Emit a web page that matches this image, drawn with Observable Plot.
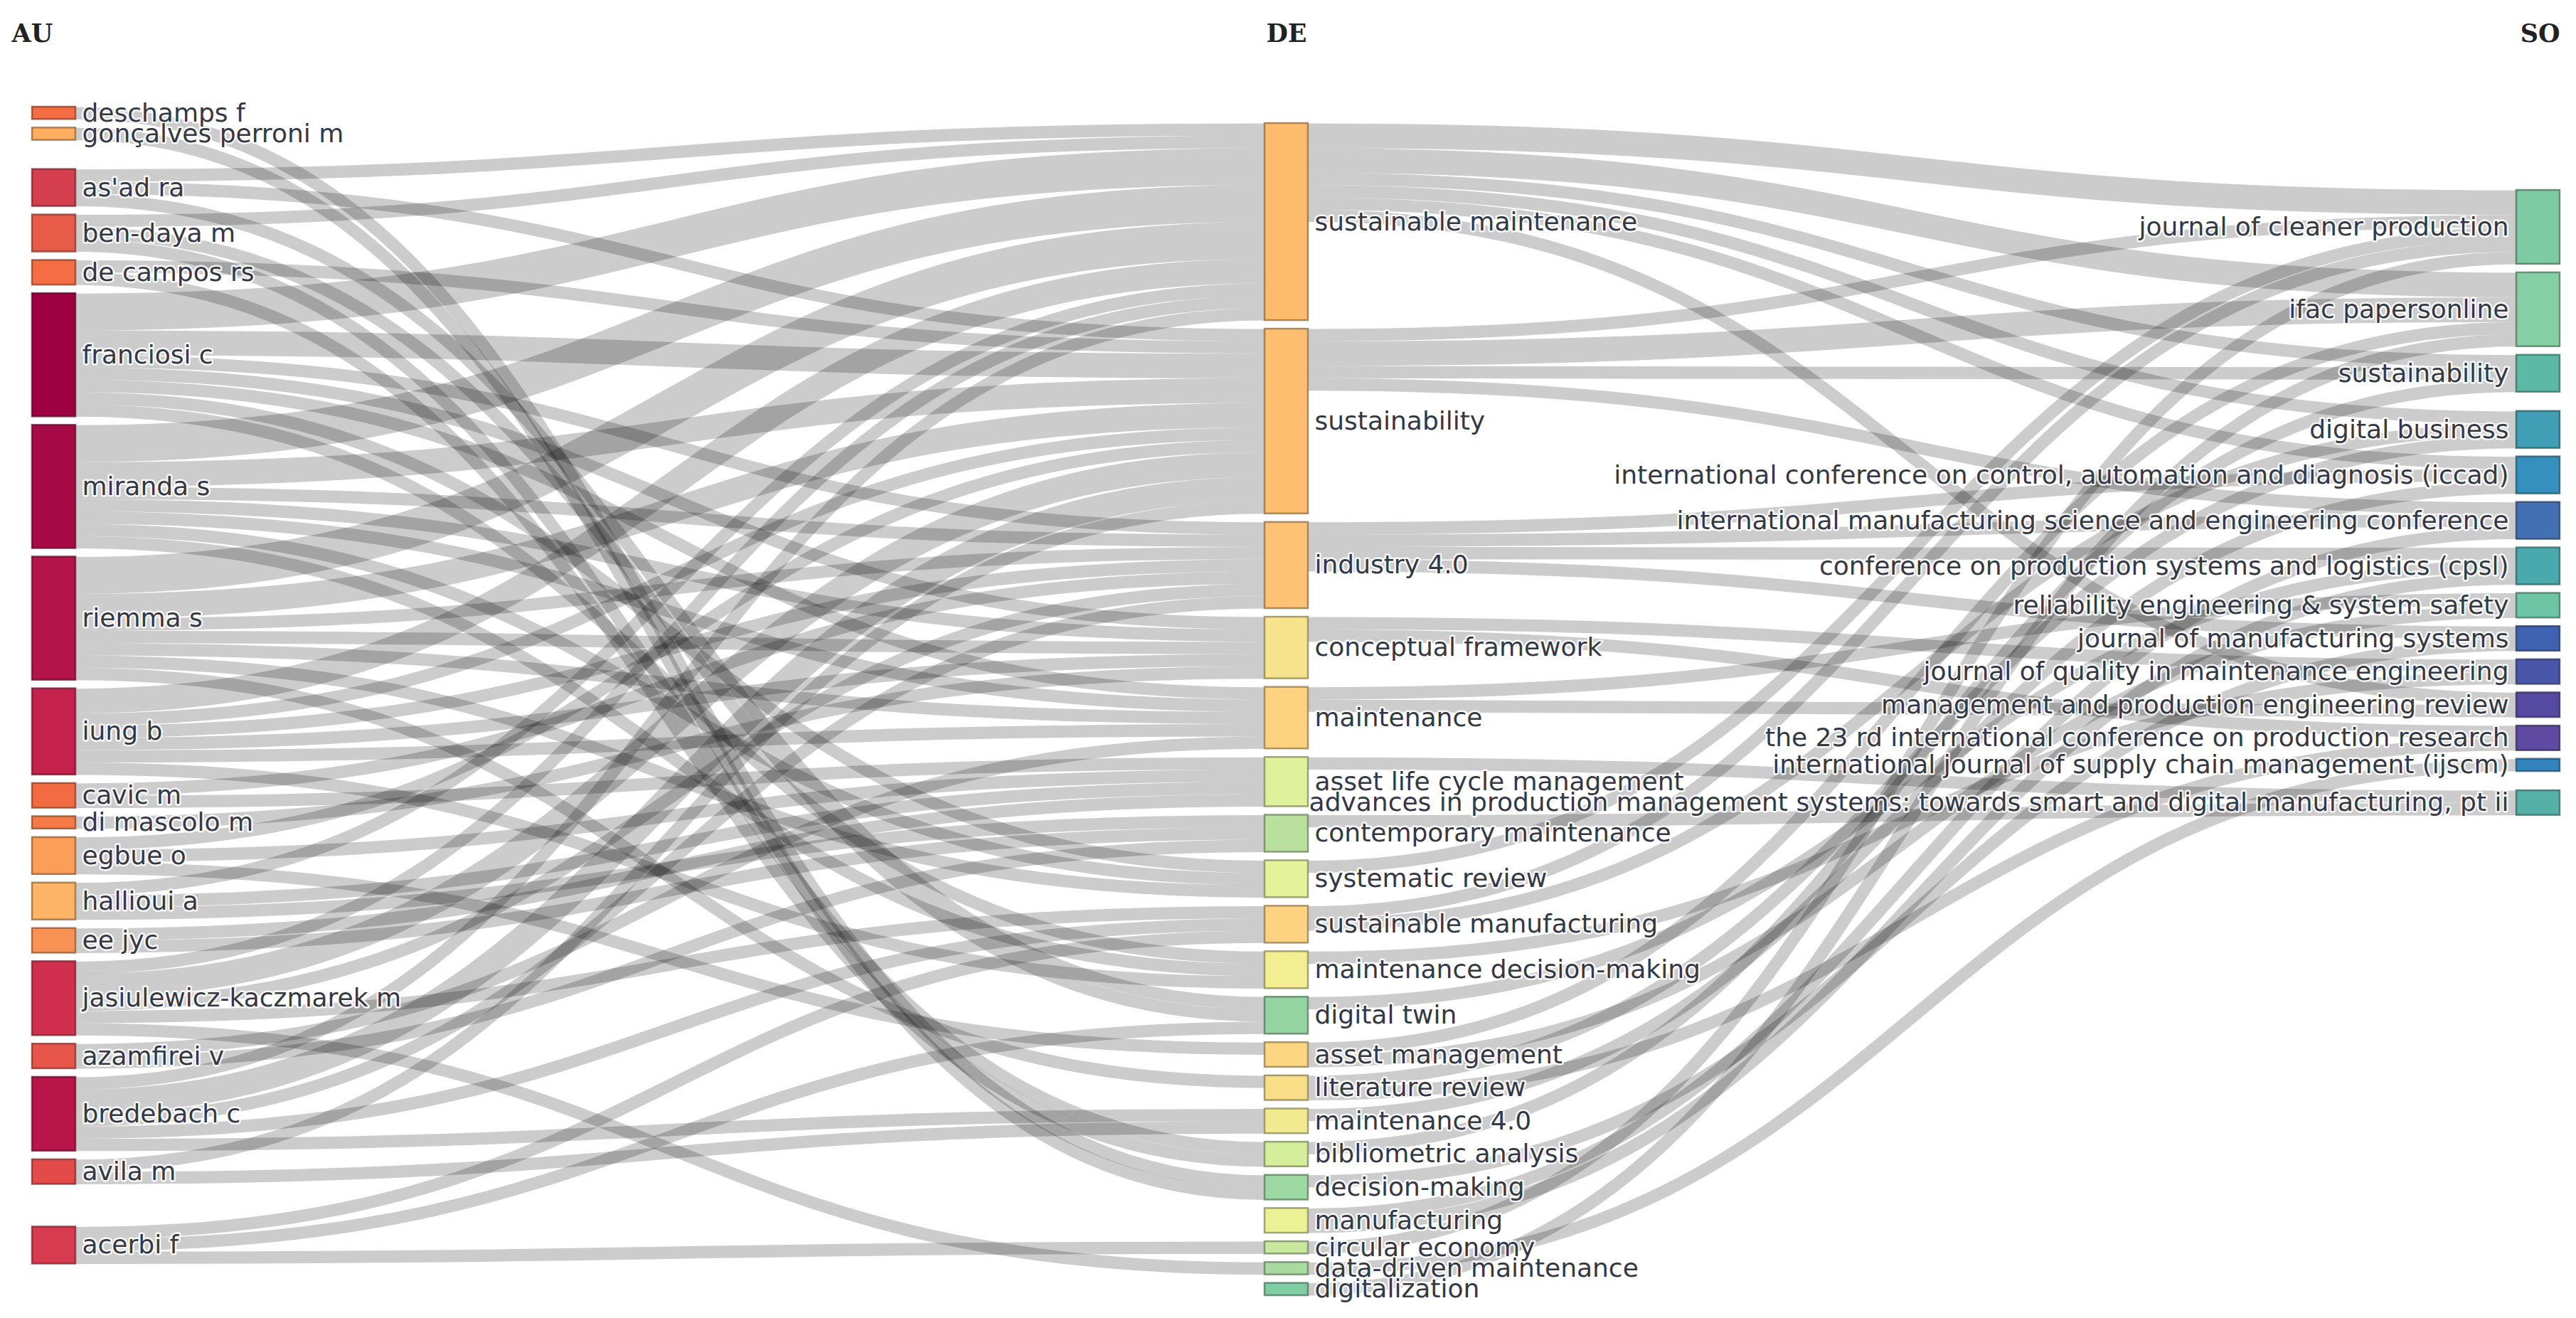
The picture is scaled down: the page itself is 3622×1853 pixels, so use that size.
<!DOCTYPE html>
<html>
<head>
<meta charset="utf-8">
<script src="https://cdn.jsdelivr.net/npm/d3@7"></script>
<script src="https://cdn.jsdelivr.net/npm/@observablehq/plot@0.6"></script>
<style>
  html, body { margin: 0; padding: 0; background: #ffffff; }
  #chart { width: 3622px; height: 1853px; overflow: hidden; }
</style>
</head>
<body>
<div id="chart"></div>
<script>
// ---------------- DATA ----------------
const fieldNames = ["AU", "DE", "SO"];

const auNodes = [
  "deschamps f", "gonçalves perroni m", "as'ad ra", "ben-daya m", "de campos rs",
  "franciosi c", "miranda s", "riemma s", "iung b", "cavic m", "di mascolo m",
  "egbue o", "hallioui a", "ee jyc", "jasiulewicz-kaczmarek m", "azamfirei v",
  "bredebach c", "avila m", "acerbi f"
];
const auColors = [
  "#f46d43", "#fdae61", "#d53e4f", "#e85b48", "#f46d43",
  "#9e0142", "#a80a45", "#b3144a", "#c4214c", "#f36b42", "#f57a45",
  "#fb9e59", "#fdb466", "#f99355", "#d0304e", "#e8554a",
  "#b8164a", "#e24b4a", "#d63b4f"
];

const deNodes = [
  "sustainable maintenance", "sustainability", "industry 4.0", "conceptual framework",
  "maintenance", "asset life cycle management", "contemporary maintenance",
  "systematic review", "sustainable manufacturing", "maintenance decision-making",
  "digital twin", "asset management", "literature review", "maintenance 4.0",
  "bibliometric analysis", "decision-making", "manufacturing", "circular economy",
  "data-driven maintenance", "digitalization"
];
const deColors = [
  "#fdbb6c", "#fdbf6f", "#fdc273", "#f7e38b",
  "#fed27f", "#e0f19b", "#b9e19d",
  "#e4f29a", "#fdd281", "#f2ee91",
  "#93d4a1", "#fdd683", "#f8df87", "#f3ea8f",
  "#d4ee9c", "#9dd7a1", "#ebf296", "#c8e89d",
  "#a9dba0", "#80cca3"
];

const soNodes = [
  "journal of cleaner production", "ifac papersonline", "sustainability", "digital business",
  "international conference on control, automation and diagnosis (iccad)",
  "international manufacturing science and engineering conference",
  "conference on production systems and logistics (cpsl)",
  "reliability engineering & system safety", "journal of manufacturing systems",
  "journal of quality in maintenance engineering", "management and production engineering review",
  "the 23 rd international conference on production research",
  "international journal of supply chain management (ijscm)",
  "advances in production management systems: towards smart and digital manufacturing, pt ii"
];
const soColors = [
  "#7ecba3", "#86cfa4", "#5cb9a6", "#409fb5",
  "#3590be", "#4370b2", "#4aa9ac",
  "#6dc5a6", "#3f63b0", "#4a57a9", "#5649a1",
  "#5e4aa0", "#3384bd", "#55b1a8"
];

// author -> keyword, number of documents
const auDeLinks = [
  ["franciosi c", "sustainable maintenance", 3], ["franciosi c", "sustainability", 2],
  ["franciosi c", "industry 4.0", 1], ["franciosi c", "conceptual framework", 1],
  ["franciosi c", "maintenance", 1], ["franciosi c", "systematic review", 1],
  ["franciosi c", "maintenance decision-making", 1],
  ["miranda s", "sustainable maintenance", 3], ["miranda s", "sustainability", 2],
  ["miranda s", "industry 4.0", 1], ["miranda s", "conceptual framework", 1],
  ["miranda s", "maintenance", 1], ["miranda s", "systematic review", 1],
  ["miranda s", "maintenance decision-making", 1],
  ["riemma s", "sustainable maintenance", 3], ["riemma s", "sustainability", 2],
  ["riemma s", "industry 4.0", 1], ["riemma s", "conceptual framework", 1],
  ["riemma s", "maintenance", 1], ["riemma s", "systematic review", 1],
  ["riemma s", "literature review", 1],
  ["iung b", "sustainable maintenance", 2], ["iung b", "sustainability", 1],
  ["iung b", "industry 4.0", 1], ["iung b", "conceptual framework", 1],
  ["iung b", "maintenance", 1], ["iung b", "maintenance decision-making", 1],
  ["deschamps f", "decision-making", 1],
  ["gonçalves perroni m", "decision-making", 1],
  ["de campos rs", "sustainability", 1], ["de campos rs", "bibliometric analysis", 1],
  ["as'ad ra", "sustainable maintenance", 1], ["as'ad ra", "sustainability", 1],
  ["as'ad ra", "digital twin", 1],
  ["ben-daya m", "sustainable maintenance", 1], ["ben-daya m", "digital twin", 1],
  ["ben-daya m", "bibliometric analysis", 1],
  ["bredebach c", "sustainability", 2], ["bredebach c", "sustainable maintenance", 1],
  ["bredebach c", "industry 4.0", 1], ["bredebach c", "sustainable manufacturing", 1],
  ["bredebach c", "maintenance 4.0", 1],
  ["jasiulewicz-kaczmarek m", "sustainability", 2], ["jasiulewicz-kaczmarek m", "sustainable maintenance", 1],
  ["jasiulewicz-kaczmarek m", "industry 4.0", 1], ["jasiulewicz-kaczmarek m", "sustainable manufacturing", 1],
  ["jasiulewicz-kaczmarek m", "data-driven maintenance", 1],
  ["acerbi f", "sustainable manufacturing", 1], ["acerbi f", "digital twin", 1],
  ["acerbi f", "circular economy", 1],
  ["azamfirei v", "maintenance", 1], ["azamfirei v", "contemporary maintenance", 1],
  ["egbue o", "sustainability", 1], ["egbue o", "asset life cycle management", 1],
  ["egbue o", "asset management", 1],
  ["hallioui a", "sustainable maintenance", 1], ["hallioui a", "asset life cycle management", 1],
  ["hallioui a", "contemporary maintenance", 1],
  ["ee jyc", "asset life cycle management", 1], ["ee jyc", "contemporary maintenance", 1],
  ["cavic m", "industry 4.0", 1], ["cavic m", "asset life cycle management", 1],
  ["di mascolo m", "conceptual framework", 1],
  ["avila m", "sustainability", 1], ["avila m", "maintenance 4.0", 1]
];

// keyword -> source, number of documents
const deSoLinks = [
  ["sustainable maintenance", "journal of cleaner production", 2],
  ["sustainable maintenance", "ifac papersonline", 2],
  ["sustainable maintenance", "sustainability", 1],
  ["sustainable maintenance", "digital business", 1],
  ["sustainable maintenance", "international conference on control, automation and diagnosis (iccad)", 1],
  ["sustainable maintenance", "management and production engineering review", 1],
  ["sustainability", "journal of cleaner production", 1],
  ["sustainability", "ifac papersonline", 2],
  ["sustainability", "sustainability", 1],
  ["sustainability", "international manufacturing science and engineering conference", 1],
  ["industry 4.0", "international conference on control, automation and diagnosis (iccad)", 1],
  ["industry 4.0", "international manufacturing science and engineering conference", 1],
  ["industry 4.0", "conference on production systems and logistics (cpsl)", 1],
  ["industry 4.0", "journal of manufacturing systems", 1],
  ["conceptual framework", "the 23 rd international conference on production research", 1],
  ["conceptual framework", "journal of quality in maintenance engineering", 1],
  ["maintenance", "reliability engineering & system safety", 1],
  ["maintenance", "management and production engineering review", 1],
  ["asset life cycle management", "advances in production management systems: towards smart and digital manufacturing, pt ii", 1],
  ["contemporary maintenance", "advances in production management systems: towards smart and digital manufacturing, pt ii", 1],
  ["systematic review", "journal of cleaner production", 1],
  ["sustainable manufacturing", "journal of cleaner production", 1],
  ["sustainable manufacturing", "digital business", 1],
  ["maintenance decision-making", "journal of quality in maintenance engineering", 1],
  ["digital twin", "conference on production systems and logistics (cpsl)", 1],
  ["asset management", "ifac papersonline", 1],
  ["asset management", "reliability engineering & system safety", 1],
  ["literature review", "digital business", 1],
  ["literature review", "the 23 rd international conference on production research", 1],
  ["maintenance 4.0", "international conference on control, automation and diagnosis (iccad)", 1],
  ["bibliometric analysis", "sustainability", 1],
  ["decision-making", "journal of manufacturing systems", 1],
  ["manufacturing", "international manufacturing science and engineering conference", 1],
  ["manufacturing", "conference on production systems and logistics (cpsl)", 1],
  ["circular economy", "journal of cleaner production", 1],
  ["data-driven maintenance", "international journal of supply chain management (ijscm)", 1],
  ["digitalization", "ifac papersonline", 1]
];

// ---------------- LAYOUT (sankey-like stacking) ----------------
try {
const W = 3622, H = 1853;
const nodeWidth = 61, nodePadding = 12;
const colLeft = [45, 1778, 3538];          // left edge of each column's nodes
const colTop = [150, 173, 267];            // first node top of each column
const fullColumn = 1, fullBottom = 1821;   // the tightest column fills down to here
const extraGap = [                          // extra space left by the layout relaxation
  {"as'ad ra": 29, "acerbi f": 48},
  {},
  {"digital business": 15, "advances in production management systems: towards smart and digital manufacturing, pt ii": 15}
];
const labelGap = 9;

const columns = [auNodes, deNodes, soNodes];
const colorCols = [auColors, deColors, soColors];
const nodes = [];
const byKey = new Map();
columns.forEach((names, c) => names.forEach((name, i) => {
  const n = {key: c + "|" + name, name, col: c, index: i, color: colorCols[c][i], sourceLinks: [], targetLinks: []};
  nodes.push(n); byKey.set(n.key, n);
}));
const links = [];
function addLinks(rows, c) {
  rows.forEach(([s, t, v]) => {
    const l = {source: byKey.get(c + "|" + s), target: byKey.get((c + 1) + "|" + t), value: v};
    if (!l.source || !l.target) { console.error("bad link", s, t); return; }
    links.push(l); l.source.sourceLinks.push(l); l.target.targetLinks.push(l);
  });
}
addLinks(auDeLinks, 0);
addLinks(deSoLinks, 1);
nodes.forEach(n => n.value = Math.max(d3.sum(n.sourceLinks, l => l.value), d3.sum(n.targetLinks, l => l.value)));
const byCol = [0, 1, 2].map(c => nodes.filter(n => n.col === c));

// px per unit value, from the column that fills the height
const fullNodes = byCol[fullColumn];
const ky = (fullBottom - colTop[fullColumn] - (fullNodes.length - 1) * nodePadding) / d3.sum(fullNodes, n => n.value);

byCol.forEach((ns, c) => {
  let y = colTop[c];
  ns.forEach((n, i) => {
    if (i > 0) y += nodePadding + (extraGap[c][n.name] || 0);
    n.y = y; n.dy = n.value * ky; y += n.dy;
  });
});
links.forEach(l => l.dy = l.value * ky);
const center = n => n.y + n.dy / 2;

nodes.forEach(n => {
  n.sourceLinks.sort((a, b) => a.target.y - b.target.y);
  n.targetLinks.sort((a, b) => a.source.y - b.source.y);
});
nodes.forEach(n => {
  let sy = 0, ty = 0;
  n.sourceLinks.forEach(l => { l.sy = sy; sy += l.dy; });
  n.targetLinks.forEach(l => { l.ty = ty; ty += l.dy; });
});

// rows for Plot: y in value units (scaled by ky), x in pixels
const u = px => px / ky;
const nodeRows = nodes.map(n => ({
  x1: colLeft[n.col], x2: colLeft[n.col] + nodeWidth, y1: u(n.y), y2: u(n.y + n.dy),
  fill: n.color, stroke: d3.rgb(n.color).darker(1.6).formatHex()
}));
const linkRows = links.map(l => ({
  x1: colLeft[l.source.col] + nodeWidth, x2: colLeft[l.target.col],
  y1: u(l.source.y + l.sy + l.dy / 2), y2: u(l.target.y + l.ty + l.dy / 2),
  w: l.dy
}));
const labelRows = nodes.map(n => ({
  name: n.name,
  x: n.col < 2 ? colLeft[n.col] + nodeWidth + labelGap : colLeft[n.col] - labelGap - 2,
  y: u(center(n)),
  anchor: n.col < 2 ? "start" : "end"
}));
const headerRows = [
  {name: fieldNames[0], x: colLeft[0] - 29, anchor: "start"},
  {name: fieldNames[1], x: colLeft[1] + nodeWidth / 2, anchor: "middle"},
  {name: fieldNames[2], x: colLeft[2] + nodeWidth, anchor: "end"}
];

const labelFont = {fontSize: 36, fontFamily: "DejaVu Sans, Verdana, sans-serif"};
function labelMarks(anchor) {
  const data = labelRows.filter(d => d.anchor === anchor);
  return [
    Plot.text(data, {x: "x", y: "y", text: "name", textAnchor: anchor, ...labelFont,
      fill: "white", stroke: "white", strokeWidth: 5, strokeOpacity: 0.85, lineAnchor: "middle"}),
    Plot.text(data, {x: "x", y: "y", text: "name", textAnchor: anchor, ...labelFont,
      fill: "#343845", lineAnchor: "middle"})
  ];
}

const chart = Plot.plot({
  width: W, height: H,
  marginTop: 0, marginBottom: 0, marginLeft: 0, marginRight: 0,
  x: {domain: [0, W], range: [0, W], axis: null},
  y: {domain: [0, u(H)], range: [0, H], axis: null},
  color: {type: "identity"},
  style: {background: "#ffffff"},
  marks: [
    Plot.link(linkRows, {x1: "x1", y1: "y1", x2: "x2", y2: "y2", curve: "bump-x",
      stroke: "#000000", strokeOpacity: 0.2, strokeWidth: "w"}),
    Plot.rect(nodeRows, {x1: "x1", x2: "x2", y1: "y1", y2: "y2", fill: "fill", stroke: "stroke", strokeWidth: 2.5, strokeOpacity: 0.75}),
    ...labelMarks("start"),
    ...labelMarks("end"),
    ...["start", "middle", "end"].map(a => Plot.text(headerRows.filter(d => d.anchor === a), {
      x: "x", text: "name", frameAnchor: "top", dy: 47, textAnchor: a, lineAnchor: "middle",
      fontSize: 35, fontWeight: "bold", fontFamily: "DejaVu Serif, Georgia, serif", fill: "#222222"
    }))
  ]
});
document.getElementById("chart").appendChild(chart);
} catch (e) {
  const p = document.createElement("pre");
  p.style.fontSize = "40px";
  p.textContent = "ERROR: " + e + "\n" + (e.stack || "");
  document.body.appendChild(p);
}
</script>
</body>
</html>
